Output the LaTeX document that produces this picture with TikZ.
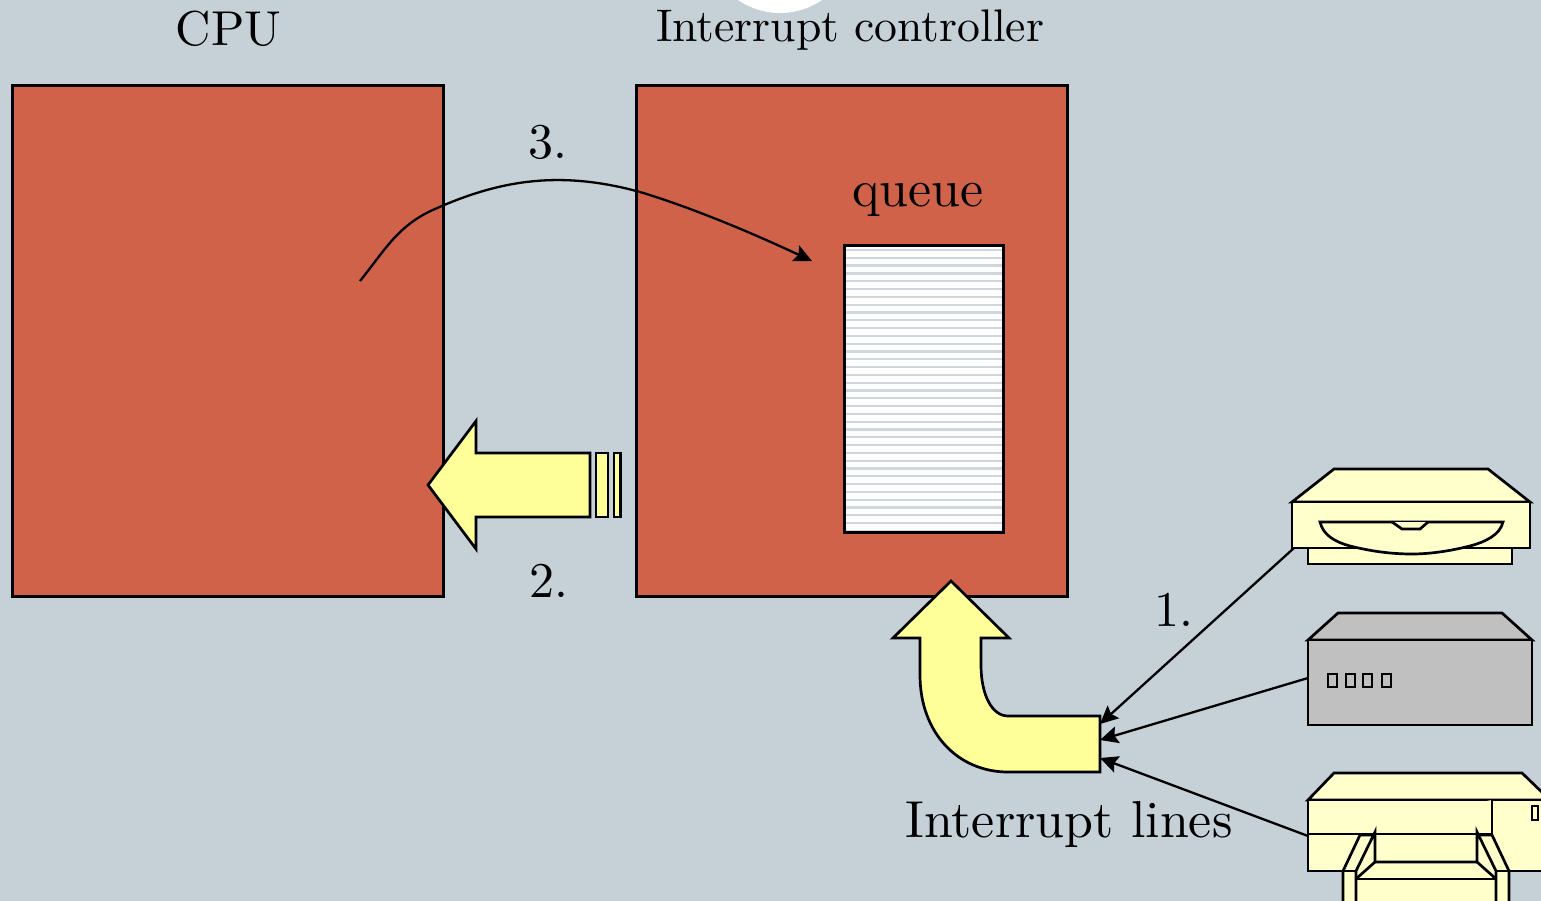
\documentclass[tikz,border=0pt]{standalone}
\usepackage{amsmath}
\usetikzlibrary{arrows.meta}
\definecolor{slide}{HTML}{C5D0D7}
\definecolor{brick}{HTML}{D1624A}
\definecolor{arrowyellow}{HTML}{FFFF99}
\definecolor{paleyellow}{HTML}{FFFFCC}
\definecolor{boxgrey}{HTML}{C0C0C0}
\tikzstyle{block}=[draw, line width=2.7pt, fill=brick, minimum width=431.5pt, minimum height=511.5pt, inner sep=0pt]
\tikzstyle{queuebox}=[draw, line width=2.7pt, minimum width=159.5pt, minimum height=287.5pt, inner sep=0pt]
\tikzstyle{caption}=[anchor=base, inner sep=0pt]
\tikzstyle{fat}=[draw, line width=2.7pt, fill=arrowyellow, line join=miter]
\tikzstyle{device}=[draw, line width=2.7pt, fill=paleyellow, line join=miter]
\tikzstyle{devicegrey}=[draw, line width=2.7pt, fill=boxgrey, line join=miter]
\tikzstyle{wire}=[line width=2.3pt, -{Stealth[length=18pt,width=17pt,inset=3pt]}]

\begin{document}
\begin{tikzpicture}[x=1pt, y=-1pt]
	\clip (0, 0) rectangle (1541, 901);
	\fill [slide] (0, 0) rectangle (1541, 901);
	\fill [white] (780, -61) circle (74);
	\begin{scope}
		\node (cpu) at (228, 341) [block] {};
		\node (ctrl) at (852, 341) [block] {};
		\fill [white] (844, 245) rectangle (1004, 533);
		\foreach \y in {0,...,36} {
			\draw [slide!85!white, line width=2.2pt] (846, 250+7.8*\y) -- (1002.5, 250+7.8*\y);
		}
		\node (queue) at (924, 389) [queuebox] {};

		\node (cpulabel) at (228.5, 46) [caption, scale=4.9] {CPU};
		\node (ctrllabel) at (850, 42) [caption, scale=4.57] {Interrupt controller};
		\node (queuelabel) at (918, 207) [caption, scale=5.2] {queue};
		\node (three) at (548, 158.5) [caption, scale=5] {3.};
		\node (two) at (549, 597.5) [caption, scale=5] {2.};
		\node (one) at (1174, 626) [caption, scale=5] {1.};
		\node (lineslabel) at (1069, 837) [caption, scale=5.2] {Interrupt lines};
	\end{scope}
	\begin{scope}
		\draw [fat] (428, 485) -- (476, 421) -- (476, 453) -- (590, 453) -- (590, 517) -- (476, 517) -- (476, 549) -- cycle;
		\draw [fat] (596, 453) rectangle (608, 517);
		\draw [fat] (614, 453) rectangle (620.5, 517);

		\draw [fat] (951, 581) -- (1009, 638) -- (981, 638) -- (981, 665) .. controls (981, 695) and (992, 716) .. (1008, 716) -- (1100, 716) -- (1100, 772) -- (1008, 772) .. controls (958, 772) and (920, 733) .. (920, 675) -- (920, 638) -- (893, 638) -- cycle;

		\coordinate (in1) at (1100, 724);
		\coordinate (in2) at (1100, 740);
		\coordinate (in3) at (1100, 758);
		\coordinate (curvestart) at (360, 281);
		\coordinate (curveend) at (812, 261);
	\end{scope}
	\begin{scope}
		\draw [device] (1292, 502) -- (1334, 469) -- (1488, 469) -- (1530, 502) -- cycle;
		\draw [device] (1308, 548) rectangle (1512, 564);
		\draw [device] (1292, 502) rectangle (1530, 548);
		\draw [device] (1320, 522) -- (1503, 522) .. controls (1500, 535) and (1485, 542) .. (1470, 546) .. controls (1450, 551) and (1430, 554) .. (1412, 554) .. controls (1390, 554) and (1370, 551) .. (1350, 546) .. controls (1335, 542) and (1323, 535) .. cycle;
		\draw [device] (1392, 522) -- (1402, 529) -- (1420, 529) -- (1428, 522);

		\draw [devicegrey] (1308, 640) -- (1338, 613) -- (1502, 613) -- (1532, 640) -- cycle;
		\draw [devicegrey] (1308, 640) rectangle (1532, 725);
		\foreach \x in {1328,1346,1363,1382} {
			\draw [devicegrey] (\x, 674) rectangle (\x+9, 687);
		}

		\draw [device] (1308, 800) -- (1334, 773) -- (1522, 773) -- (1550, 800) -- cycle;
		\draw [device] (1308, 800) rectangle (1560, 871);
		\draw [device] (1492, 800) -- (1492, 834) -- (1308, 834);
		\draw [device] (1532, 806) rectangle (1538, 820);
		\draw [device] (1360, 835) -- (1343, 871) -- (1343, 905) -- (1509, 905) -- (1509, 871) -- (1492, 835) -- cycle;
		\draw [device] (1375, 834) rectangle (1477, 862);
		\draw [device] (1375, 832) -- (1356, 871) -- (1356, 905) -- (1496, 905) -- (1496, 871) -- (1477, 832) -- (1477, 862) -- (1375, 862) -- cycle;
		\draw [device] (1343, 871) -- (1356, 871);
		\draw [device] (1496, 871) -- (1509, 871);
		\draw [device] (1356, 879) -- (1496, 879);
		\draw [device] (1375, 862) -- (1357, 878);
		\draw [device] (1477, 862) -- (1495, 878);

		\coordinate (disk) at (1294, 548);
		\coordinate (server) at (1308, 678);
		\coordinate (printer) at (1308, 836);
	\end{scope}
	\begin{scope}
		\path [wire] (disk) edge (in1);
		\path [wire] (server) edge (in2);
		\path [wire] (printer) edge (in3);
		\draw [wire] (curvestart) .. controls (385, 250) and (398, 225) .. (435, 209) .. controls (500, 180) and (560, 170) .. (640, 192) .. controls (690, 207) and (750, 232) .. (curveend);
	\end{scope}
\end{tikzpicture}
\end{document}
